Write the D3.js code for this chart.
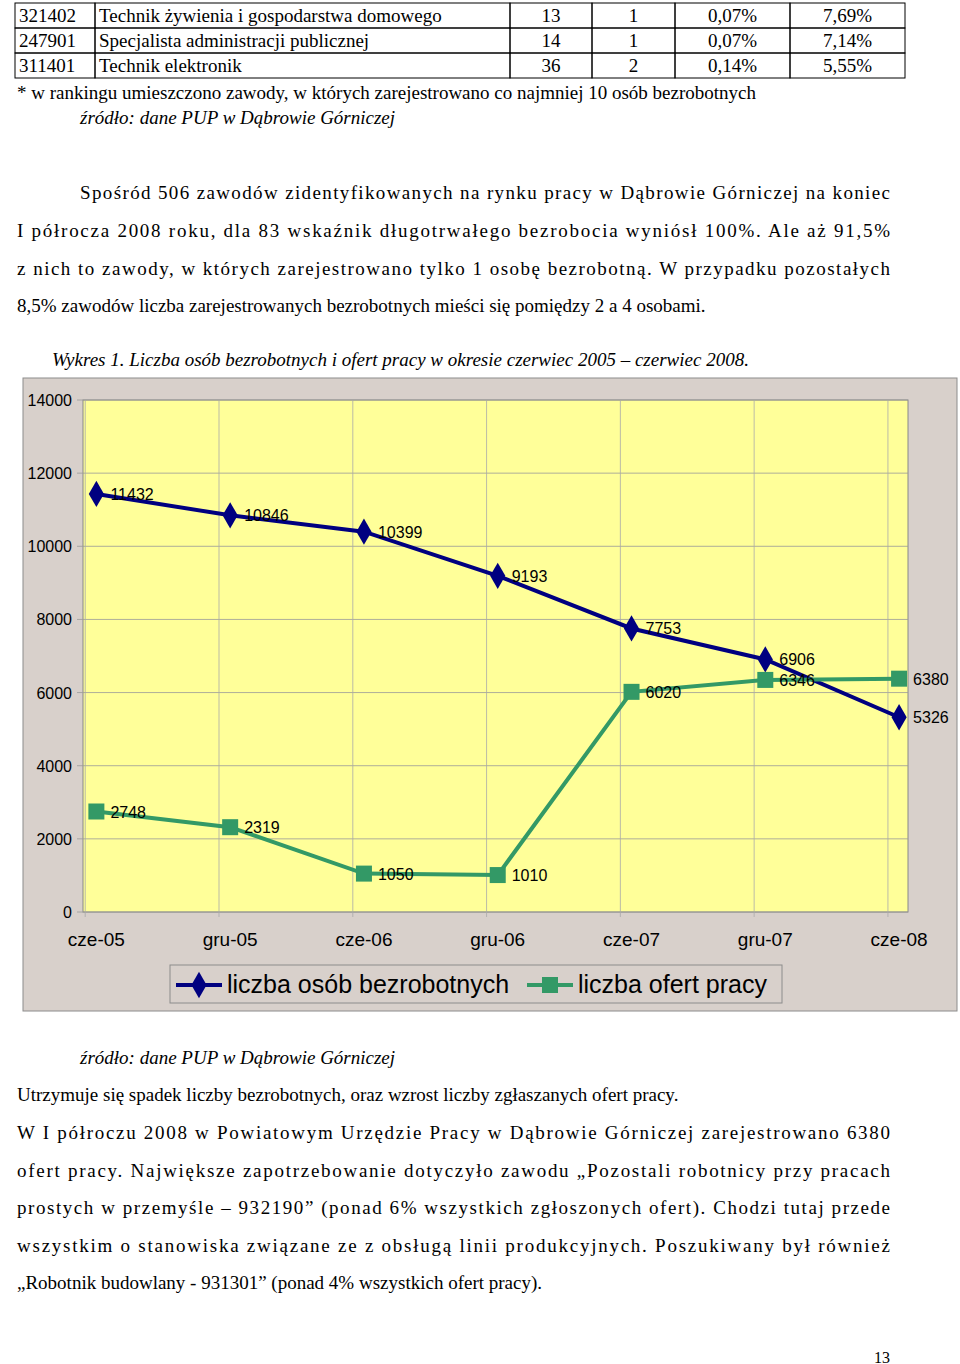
<!DOCTYPE html>
<html><head><meta charset="utf-8">
<script src="https://cdn.jsdelivr.net/npm/d3@7"></script>
<style>
body{margin:0;background:#fff;}
svg text{font-family:"Liberation Serif","Times New Roman",serif;}
</style></head>
<body><svg id="page" width="960" height="1364"></svg>
<script>
const tableRows = [
  ["321402", "Technik żywienia i gospodarstwa domowego", "13", "1", "0,07%", "7,69%"],
  ["247901", "Specjalista administracji publicznej", "14", "1", "0,07%", "7,14%"],
  ["311401", "Technik elektronik", "36", "2", "0,14%", "5,55%"]
];
const categories = ["cze-05", "gru-05", "cze-06", "gru-06", "cze-07", "gru-07", "cze-08"];
const unemployed = [11432, 10846, 10399, 9193, 7753, 6906, 5326];
const offers = [2748, 2319, 1050, 1010, 6020, 6346, 6380];
const yTicks = [0, 2000, 4000, 6000, 8000, 10000, 12000, 14000];

const svg = d3.select('#page');

// table
const colX = [15, 95, 510, 592, 675, 790, 905];
tableRows.forEach((r, i) => {
  const y0 = 3 + i * 25;
  r.forEach((c, j) => {
    svg.append('rect').attr('x', colX[j]).attr('y', y0).attr('width', colX[j+1]-colX[j]).attr('height', 25)
      .attr('fill', 'none').attr('stroke', '#000');
    const centered = j >= 2;
    svg.append('text')
      .attr('x', centered ? (colX[j]+colX[j+1])/2 : colX[j] + 4)
      .attr('y', y0 + 19).attr('text-anchor', centered ? 'middle' : 'start')
      .style('font-size', '19px').text(c);
  });
});

const lines = [
  {x: 17, y: 99, t: "* w rankingu umieszczono zawody, w których zarejestrowano co najmniej 10 osób bezrobotnych"},
  {x: 80, y: 124, t: "źródło: dane PUP w Dąbrowie Górniczej", i: true},
  {x: 80, y: 199, t: "Spośród 506 zawodów zidentyfikowanych na rynku pracy w Dąbrowie Górniczej na koniec", j: true},
  {x: 17, y: 237, t: "I półrocza 2008 roku, dla 83 wskaźnik długotrwałego bezrobocia wyniósł 100%. Ale aż 91,5%", j: true},
  {x: 17, y: 275, t: "z nich to zawody, w których zarejestrowano tylko 1 osobę bezrobotną. W przypadku pozostałych", j: true},
  {x: 17, y: 312, t: "8,5% zawodów liczba zarejestrowanych bezrobotnych mieści się pomiędzy 2 a 4 osobami."},
  {x: 52, y: 366, t: "Wykres 1. Liczba osób bezrobotnych i ofert pracy w okresie czerwiec 2005 – czerwiec 2008.", i: true},
  {x: 80, y: 1064, t: "źródło: dane PUP w Dąbrowie Górniczej", i: true},
  {x: 17, y: 1101, t: "Utrzymuje się spadek liczby bezrobotnych, oraz wzrost liczby zgłaszanych ofert pracy."},
  {x: 17, y: 1139, t: "W I półroczu 2008 w Powiatowym Urzędzie Pracy w Dąbrowie Górniczej zarejestrowano 6380", j: true},
  {x: 17, y: 1177, t: "ofert pracy. Największe zapotrzebowanie dotyczyło zawodu „Pozostali robotnicy przy pracach", j: true},
  {x: 17, y: 1214, t: "prostych w przemyśle – 932190” (ponad 6% wszystkich zgłoszonych ofert). Chodzi tutaj przede", j: true},
  {x: 17, y: 1252, t: "wszystkim o stanowiska związane ze z obsługą linii produkcyjnych.  Poszukiwany był również", j: true},
  {x: 17, y: 1289, t: "„Robotnik budowlany - 931301” (ponad 4% wszystkich ofert pracy)."}
];
lines.forEach(l => {
  const t = svg.append('text').attr('x', l.x).attr('y', l.y).style('font-size', '19px')
    .style('font-style', l.i ? 'italic' : 'normal').text(l.t);
  if (l.j) t.attr('textLength', 890 - l.x).attr('lengthAdjust', 'spacing');
});
svg.append('text').attr('x', 890).attr('y', 1363).attr('text-anchor', 'end').style('font-size', '16px').text('13');

// chart
const g = svg.append('g');
g.append('rect').attr('x', 23).attr('y', 378).attr('width', 934).attr('height', 633)
  .attr('fill', '#d8d0cb').attr('stroke', '#8c8c8c');
const pLeft = 83, pRight = 908, pTop = 400, pBottom = 912;
const x = d3.scaleLinear().domain([-0.6, 36.4]).range([pLeft, pRight]);
const y = d3.scaleLinear().domain([0, 14000]).range([pBottom, pTop]);
const mx = i => x(i * 6);

g.append('rect').attr('x', pLeft).attr('y', pTop).attr('width', pRight-pLeft).attr('height', pBottom-pTop)
  .attr('fill', '#ffff99').attr('stroke', '#888');
g.selectAll('.hg').data(yTicks).enter().append('line')
  .attr('x1', pLeft - 6).attr('x2', pRight).attr('y1', d => y(d)).attr('y2', d => y(d))
  .attr('stroke', '#999').attr('stroke-width', 0.8);
g.selectAll('.vg').data(d3.range(7)).enter().append('line')
  .attr('x1', d => x(d*6 - 0.5)).attr('x2', d => x(d*6 - 0.5)).attr('y1', pTop).attr('y2', pBottom + 5)
  .attr('stroke', '#aaa').attr('stroke-width', 0.8);
g.selectAll('.yt').data(yTicks).enter().append('text')
  .attr('x', 72).attr('y', d => y(d) + 6).attr('text-anchor', 'end')
  .style('font-family', 'Liberation Sans, Arial').style('font-size', '16px').text(d => d);
g.selectAll('.xt').data(categories).enter().append('text')
  .attr('x', (d, i) => mx(i)).attr('y', 946).attr('text-anchor', 'middle')
  .style('font-family', 'Liberation Sans, Arial').style('font-size', '19px').text(d => d);

const line = d3.line().x((d, i) => mx(i)).y(d => y(d));
const blue = '#000080', green = '#339966';
g.append('path').datum(unemployed).attr('d', line).attr('fill', 'none').attr('stroke', blue).attr('stroke-width', 4);
g.append('path').datum(offers).attr('d', line).attr('fill', 'none').attr('stroke', green).attr('stroke-width', 4);
g.selectAll('.dm').data(unemployed).enter().append('path')
  .attr('d', d3.symbol(d3.symbolDiamond, 200)()).attr('fill', blue)
  .attr('transform', (d, i) => `translate(${mx(i)},${y(d)})`);
g.selectAll('.sq').data(offers).enter().append('rect')
  .attr('x', (d, i) => mx(i) - 8).attr('y', d => y(d) - 8).attr('width', 16).attr('height', 16).attr('fill', green);
const lbl = data => g.selectAll(null).data(data).enter().append('text')
  .attr('x', (d, i) => mx(i) + 14).attr('y', d => y(d) + 6)
  .style('font-family', 'Liberation Sans, Arial').style('font-size', '16px').text(d => d);
lbl(unemployed);
lbl(offers);

// legend
g.append('rect').attr('x', 170).attr('y', 965).attr('width', 612).attr('height', 38)
  .attr('fill', '#d8d0cb').attr('stroke', '#8c8c8c');
g.append('line').attr('x1', 176).attr('x2', 222).attr('y1', 985).attr('y2', 985).attr('stroke', blue).attr('stroke-width', 4);
g.append('path').attr('d', d3.symbol(d3.symbolDiamond, 200)()).attr('fill', blue).attr('transform', 'translate(199,985)');
g.append('text').attr('x', 227).attr('y', 993).style('font-family', 'Liberation Sans, Arial').style('font-size', '25px').text('liczba osób bezrobotnych');
g.append('line').attr('x1', 527).attr('x2', 573).attr('y1', 985).attr('y2', 985).attr('stroke', green).attr('stroke-width', 4);
g.append('rect').attr('x', 542).attr('y', 977).attr('width', 16).attr('height', 16).attr('fill', green);
g.append('text').attr('x', 578).attr('y', 993).style('font-family', 'Liberation Sans, Arial').style('font-size', '25px').text('liczba ofert pracy');
</script></body></html>
